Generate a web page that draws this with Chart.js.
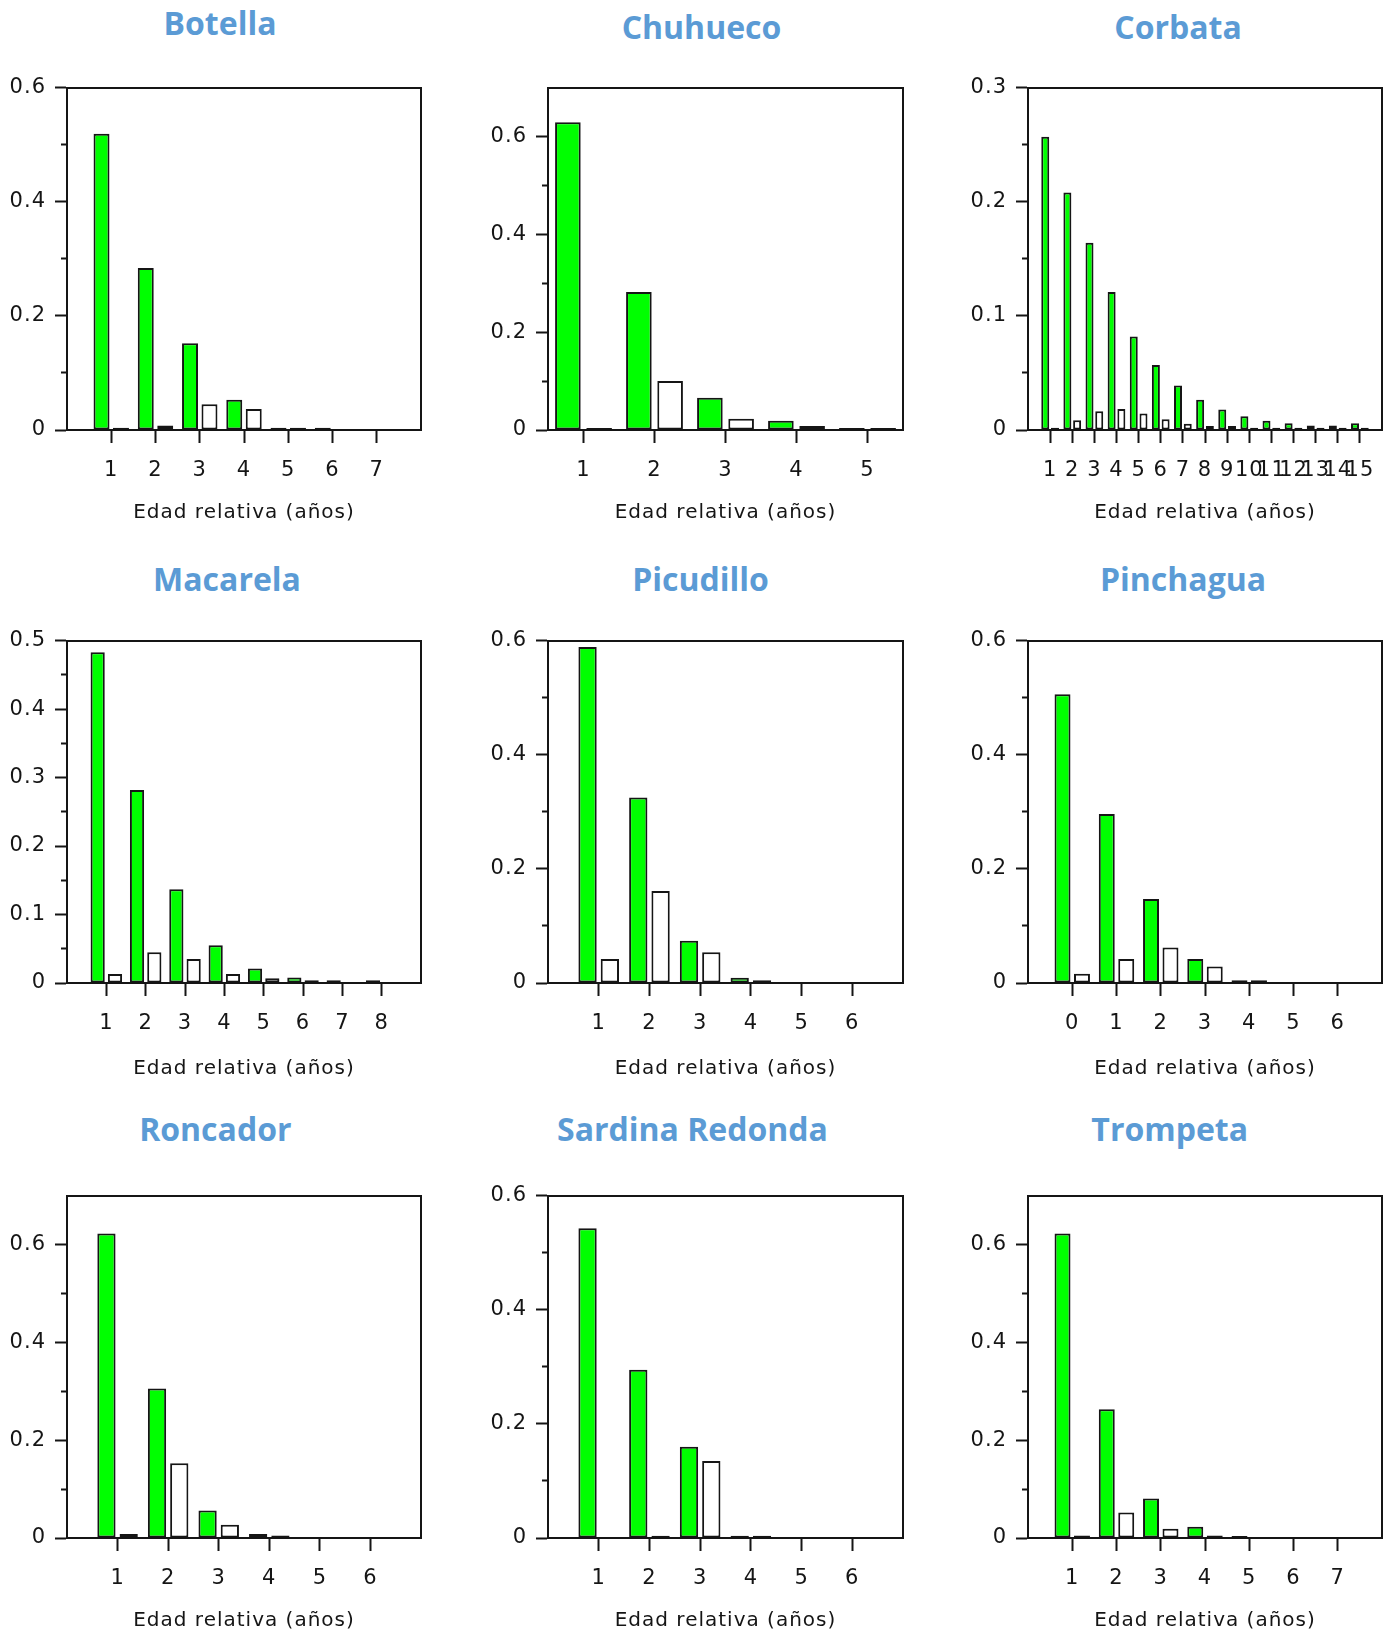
<!DOCTYPE html>
<html><head><meta charset="utf-8">
<script src="https://cdn.jsdelivr.net/npm/chart.js@4.4.1/dist/chart.umd.min.js"></script>
<style>
html,body{margin:0;padding:0;background:#fff;}
#page{position:relative;width:1390px;height:1633px;overflow:hidden;background:#fff;}
#page canvas{position:absolute;}
.ttl{position:absolute;font-family:'Open Sans',sans-serif;font-weight:700;font-size:32px;line-height:32px;color:#5b9bd5;white-space:nowrap;transform:translateX(-50%);}
</style></head><body><div id="page"></div>
<script>
// ---------- DATA ----------
const axisTitle = 'Edad relativa (años)';
const titles = ['Botella', 'Chuhueco', 'Corbata', 'Macarela', 'Picudillo', 'Pinchagua', 'Roncador', 'Sardina Redonda', 'Trompeta'];

const botellaEdades = [1, 2, 3, 4, 5, 6, 7];
const botellaVerde  = [0.519, 0.284, 0.152, 0.053, 0.004, 0.004, 0];
const botellaBlanco = [0.004, 0.008, 0.045, 0.037, 0.004, 0, 0];
const botellaRangoX = [0, 8];
const botellaYTicks = [0, 0.2, 0.4, 0.6];
const botellaYMenor = [0.1, 0.3, 0.5];
const botellaYMax = 0.6;

const chuhuecoEdades = [1, 2, 3, 4, 5];
const chuhuecoVerde  = [0.629, 0.282, 0.066, 0.019, 0.004];
const chuhuecoBlanco = [0.004, 0.100, 0.023, 0.008, 0.004];
const chuhuecoRangoX = [0.5, 5.5];
const chuhuecoYTicks = [0, 0.2, 0.4, 0.6];
const chuhuecoYMenor = [0.1, 0.3, 0.5];
const chuhuecoYMax = 0.7;

const corbataEdades = [1, 2, 3, 4, 5, 6, 7, 8, 9, 10, 11, 12, 13, 14, 15];
const corbataVerde  = [0.257, 0.208, 0.164, 0.121, 0.082, 0.057, 0.039, 0.0265, 0.018, 0.012, 0.008, 0.006, 0.004, 0.004, 0.006];
const corbataBlanco = [0.002, 0.0085, 0.0165, 0.0185, 0.0145, 0.0095, 0.0055, 0.0035, 0.0035, 0.002, 0.002, 0.002, 0.002, 0.002, 0.002];
const corbataRangoX = [0, 16];
const corbataYTicks = [0, 0.1, 0.2, 0.3];
const corbataYMenor = [0.05, 0.15, 0.25];
const corbataYMax = 0.3;

const macarelaEdades = [1, 2, 3, 4, 5, 6, 7, 8];
const macarelaVerde  = [0.483, 0.282, 0.137, 0.055, 0.021, 0.008, 0.004, 0.004];
const macarelaBlanco = [0.013, 0.045, 0.035, 0.013, 0.007, 0.004, 0, 0];
const macarelaRangoX = [0, 9];
const macarelaYTicks = [0, 0.1, 0.2, 0.3, 0.4, 0.5];
const macarelaYMenor = [0.05, 0.15, 0.25, 0.35, 0.45];
const macarelaYMax = 0.5;

const picudilloEdades = [1, 2, 3, 4, 5, 6];
const picudilloVerde  = [0.589, 0.325, 0.074, 0.009, 0, 0];
const picudilloBlanco = [0.042, 0.161, 0.054, 0.005, 0, 0];
const picudilloRangoX = [0, 7];
const picudilloYTicks = [0, 0.2, 0.4, 0.6];
const picudilloYMenor = [0.1, 0.3, 0.5];
const picudilloYMax = 0.6;

const pinchaguaEdades = [0, 1, 2, 3, 4, 5, 6];
const pinchaguaVerde  = [0.506, 0.296, 0.147, 0.042, 0.005, 0, 0];
const pinchaguaBlanco = [0.016, 0.042, 0.062, 0.029, 0.005, 0, 0];
const pinchaguaRangoX = [-1, 7];
const pinchaguaYTicks = [0, 0.2, 0.4, 0.6];
const pinchaguaYMenor = [0.1, 0.3, 0.5];
const pinchaguaYMax = 0.6;

const roncadorEdades = [1, 2, 3, 4, 5, 6];
const roncadorVerde  = [0.6225, 0.3055, 0.056, 0.008, 0, 0];
const roncadorBlanco = [0.008, 0.153, 0.027, 0.005, 0, 0];
const roncadorRangoX = [0, 7];
const roncadorYTicks = [0, 0.2, 0.4, 0.6];
const roncadorYMenor = [0.1, 0.3, 0.5];
const roncadorYMax = 0.7;

const sardinaEdades = [1, 2, 3, 4, 5, 6];
const sardinaVerde  = [0.543, 0.295, 0.160, 0.004, 0, 0];
const sardinaBlanco = [0, 0.004, 0.135, 0.004, 0, 0];
const sardinaRangoX = [0, 7];
const sardinaYTicks = [0, 0.2, 0.4, 0.6];
const sardinaYMenor = [0.1, 0.3, 0.5];
const sardinaYMax = 0.6;

const trompetaEdades = [1, 2, 3, 4, 5, 6, 7];
const trompetaVerde  = [0.6225, 0.263, 0.081, 0.023, 0.004, 0, 0];
const trompetaBlanco = [0.005, 0.052, 0.019, 0.005, 0, 0, 0];
const trompetaRangoX = [0, 8];
const trompetaYTicks = [0, 0.2, 0.4, 0.6];
const trompetaYMenor = [0.1, 0.3, 0.5];
const trompetaYMax = 0.7;

// ---------- LAYOUT (positions / sizes / styles) ----------
const colLeft = [67, 548, 1028];
const colWidth = [354, 355, 354];
const rowTop = [86, 639, 1194];
const rowHeight = [344, 344, 344];
const axisTitleGap = [83, 86, 83];
const titleCenter = [220, 701.5, 1178, 227, 700.5, 1183, 215.3, 692.5, 1169.7];
const titleBaseline = [35.4, 38.9, 38.9, 591.5, 591.5, 591.5, 1141.7, 1141.7, 1141.7];
const PAD_L = 66, PAD_R = 8, PAD_T = 20, PAD_B = 100;
const INK = '#151515';
const GREEN = '#00ff00';
const TICK_FONT = {family: "'DejaVu Sans', sans-serif", size: 21};
const TITLE_FONT = {family: "'DejaVu Sans', sans-serif", size: 20};

const panels = [
  [botellaEdades, botellaVerde, botellaBlanco, botellaRangoX, botellaYTicks, botellaYMenor, botellaYMax],
  [chuhuecoEdades, chuhuecoVerde, chuhuecoBlanco, chuhuecoRangoX, chuhuecoYTicks, chuhuecoYMenor, chuhuecoYMax],
  [corbataEdades, corbataVerde, corbataBlanco, corbataRangoX, corbataYTicks, corbataYMenor, corbataYMax],
  [macarelaEdades, macarelaVerde, macarelaBlanco, macarelaRangoX, macarelaYTicks, macarelaYMenor, macarelaYMax],
  [picudilloEdades, picudilloVerde, picudilloBlanco, picudilloRangoX, picudilloYTicks, picudilloYMenor, picudilloYMax],
  [pinchaguaEdades, pinchaguaVerde, pinchaguaBlanco, pinchaguaRangoX, pinchaguaYTicks, pinchaguaYMenor, pinchaguaYMax],
  [roncadorEdades, roncadorVerde, roncadorBlanco, roncadorRangoX, roncadorYTicks, roncadorYMenor, roncadorYMax],
  [sardinaEdades, sardinaVerde, sardinaBlanco, sardinaRangoX, sardinaYTicks, sardinaYMenor, sardinaYMax],
  [trompetaEdades, trompetaVerde, trompetaBlanco, trompetaRangoX, trompetaYTicks, trompetaYMenor, trompetaYMax]
];

const spacingPlugin = {
  id: 'letterSpacing',
  beforeDraw(chart) { if ('letterSpacing' in chart.ctx) chart.ctx.letterSpacing = '1px'; }
};

const page = document.getElementById('page');

panels.forEach((p, i) => {
  const [ages, green, white, rangeX, yMajor, yMinor, yMax] = p;
  const col = i % 3, row = Math.floor(i / 3);
  const w = colWidth[col], h = rowHeight[row];

  const t = document.createElement('div');
  t.className = 'ttl';
  t.textContent = titles[i];
  t.style.left = titleCenter[i] + 'px';
  t.style.top = (titleBaseline[i] - 28.4) + 'px';
  page.appendChild(t);

  const cv = document.createElement('canvas');
  const cw = PAD_L + w + PAD_R, ch = PAD_T + h + PAD_B;
  cv.width = cw; cv.height = ch;
  cv.style.width = cw + 'px'; cv.style.height = ch + 'px';
  cv.style.left = (colLeft[col] - PAD_L) + 'px';
  cv.style.top = (rowTop[row] - PAD_T) + 'px';
  page.appendChild(cv);

  const yAll = yMajor.concat(yMinor).sort((a, b) => a - b);
  const isMajor = v => yMajor.some(m => Math.abs(m - v) < 1e-9);

  new Chart(cv, {
    type: 'bar',
    data: {
      datasets: [
        {data: ages.map((a, k) => ({x: a, y: green[k]})), backgroundColor: GREEN, borderColor: INK, borderWidth: 2, borderSkipped: false, inflateAmount: 0},
        {data: ages.map((a, k) => ({x: a, y: white[k]})), backgroundColor: '#ffffff', borderColor: INK, borderWidth: 2, borderSkipped: false, inflateAmount: 0}
      ]
    },
    options: {
      responsive: false, animation: false, devicePixelRatio: 1,
      layout: {padding: {top: PAD_T, right: PAD_R, left: 0, bottom: 0}},
      plugins: {legend: {display: false}, title: {display: false}, tooltip: {enabled: false}},
      datasets: {bar: {categoryPercentage: 0.88, barPercentage: 0.82}},
      scales: {
        x: {
          type: 'linear', position: 'bottom', min: rangeX[0], max: rangeX[1], offset: false,
          afterBuildTicks: s => { s.ticks = ages.map(v => ({value: v})); },
          afterFit: s => { s.height = PAD_B; },
          ticks: {autoSkip: false, maxRotation: 0, minRotation: 0, padding: 15, color: INK, font: TICK_FONT, callback: v => String(v)},
          grid: {offset: false, drawOnChartArea: false, drawTicks: true, tickLength: 13, tickColor: INK, tickWidth: 2},
          border: {display: true, color: INK, width: 2},
          title: {display: true, text: axisTitle, color: INK, font: TITLE_FONT, padding: {top: 0, bottom: PAD_B - axisTitleGap[row] - 12}}
        },
        y: {
          type: 'linear', position: 'left', min: 0, max: yMax,
          afterBuildTicks: s => { s.ticks = yAll.map(v => ({value: v})); },
          afterFit: s => { s.width = PAD_L; },
          ticks: {autoSkip: false, padding: 9, color: INK, font: TICK_FONT, callback: v => isMajor(v) ? String(Number(v.toFixed(2))) : ''},
          grid: {drawOnChartArea: false, drawTicks: true, tickLength: 12, tickColor: INK, tickWidth: 2,
                 tickBorderDash: ctx => (ctx.tick && !isMajor(ctx.tick.value)) ? [0, 6, 5, 100] : []},
          border: {display: true, color: INK, width: 2}
        },
        xTop: {
          type: 'linear', position: 'top', min: rangeX[0], max: rangeX[1], offset: false,
          afterFit: s => { s.height = 0; },
          ticks: {display: false},
          grid: {offset: false, drawOnChartArea: false, drawTicks: false},
          border: {display: true, color: INK, width: 2}
        },
        yRight: {
          type: 'linear', position: 'right', min: 0, max: yMax,
          afterFit: s => { s.width = 0; },
          ticks: {display: false},
          grid: {drawOnChartArea: false, drawTicks: false},
          border: {display: true, color: INK, width: 2}
        }
      }
    },
    plugins: [spacingPlugin]
  });
});
</script></body></html>
